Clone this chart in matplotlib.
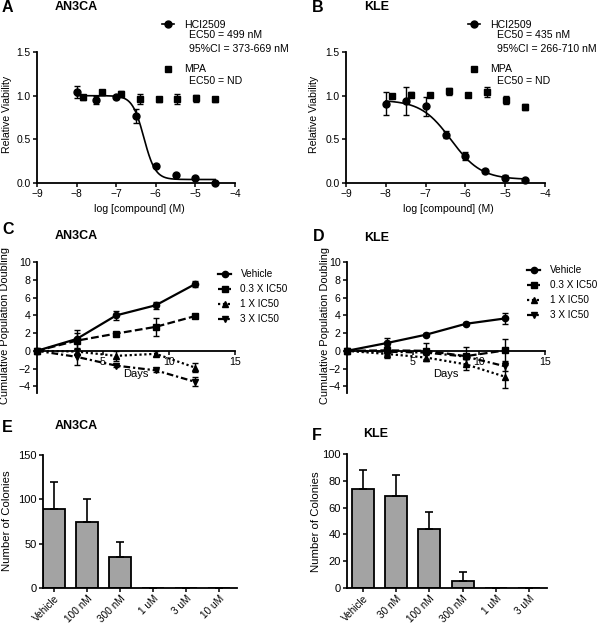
import numpy as np
import matplotlib
matplotlib.use("Agg")
import matplotlib.pyplot as plt
from matplotlib.lines import Line2D

plt.rcParams['font.family'] = ['Liberation Sans', 'DejaVu Sans']

# ---------------- data ----------------
log_conc = [-8, -7.5, -7, -6.5, -6, -5.5, -5, -4.5]
mpa_log_conc = [-7.85, -7.37, -6.89, -6.41, -5.93, -5.46, -4.98, -4.5]

an3ca_hci = [1.04, 0.95, 0.98, 0.77, 0.20, 0.095, 0.057, 0.005]
an3ca_hci_err = [0.07, 0.05, 0.02, 0.08, 0.02, 0.01, 0.01, 0.01]
an3ca_mpa = [0.98, 1.04, 1.02, 0.96, 0.96, 0.96, 0.97, 0.96]
an3ca_mpa_err = [0.03, 0.03, 0.03, 0.06, 0.03, 0.06, 0.04, 0.03]
an3ca_fit = dict(top=1.0, bottom=0.04, ec50_nm=499, hill=3.0)

kle_hci = [0.91, 0.94, 0.88, 0.55, 0.31, 0.14, 0.06, 0.03]
kle_hci_err = [0.13, 0.16, 0.11, 0.04, 0.05, 0.02, 0.03, 0.01]
kle_mpa = [1.0, 1.01, 1.01, 1.05, 1.01, 1.04, 0.95, 0.87]
kle_mpa_err = [0.02, 0.03, 0.02, 0.04, 0.02, 0.06, 0.05, 0.03]
kle_fit = dict(top=0.95, bottom=0.04, ec50_nm=435, hill=1.15)

days = [0, 3, 6, 9, 12]
growth_labels = ['Vehicle', '0.3 X IC50', '1 X IC50', '3 X IC50']

an3ca_growth = [[0, 1.33, 3.99, 5.13, 7.53],
                [0, 1.14, 1.94, 2.70, 3.92],
                [0, -0.08, -0.57, -0.34, -1.90],
                [0, -0.68, -1.67, -2.20, -3.50]]
an3ca_growth_err = [[0, 1.0, 0.5, 0.4, 0.3],
                    [0, 0.9, 0.2, 1.0, 0.2],
                    [0, 0.3, 0.6, 0.3, 0.5],
                    [0, 0.9, 0.2, 0.15, 0.5]]

kle_growth = [[0, 0.87, 1.82, 3.04, 3.65],
              [0, 0.05, 0.0, -0.60, 0.05],
              [0, -0.35, -0.76, -1.52, -2.93],
              [0, -0.10, -0.20, -0.65, -1.75]]
kle_growth_err = [[0, 0.6, 0.15, 0.15, 0.6],
                  [0, 0.5, 0.9, 1.0, 1.25],
                  [0, 0.5, 0.4, 0.6, 1.3],
                  [0, 0.3, 0.3, 0.3, 0.5]]

an3ca_col_cats = ['Vehicle', '100 nM', '300 nM', '1 uM', '3 uM', '10 uM']
an3ca_colonies = [89, 75, 35, 0, 0, 0]
an3ca_colonies_err = [30, 25, 17, 0, 0, 0]

kle_col_cats = ['Vehicle', '30 nM', '100 nM', '300 nM', '1 uM', '3 uM']
kle_colonies = [74, 69, 44, 5, 0, 0]
kle_colonies_err = [14, 15, 12.5, 7, 0, 0]

# ---------------- layout helpers ----------------
W, H = 600, 623
fig = plt.figure(figsize=(W / 100, H / 100), dpi=100)


def add_ax(left, top, right, bottom):
    return fig.add_axes([left / W, 1 - bottom / H, (right - left) / W, (bottom - top) / H])


def ftext(x, y, s, **kw):
    kw.setdefault('ha', 'center')
    kw.setdefault('va', 'center')
    return fig.text(x / W, 1 - y / H, s, **kw)


def style(ax, fs):
    for s in ['top', 'right']:
        ax.spines[s].set_visible(False)
    for s in ['left', 'bottom']:
        ax.spines[s].set_linewidth(1.3)
    ax.tick_params(direction='out', length=3, width=1.1, labelsize=fs, pad=1.5)


def logistic(x, top, bottom, ec50_nm, hill):
    c = np.log10(ec50_nm * 1e-9)
    return bottom + (top - bottom) / (1 + 10 ** ((x - c) * hill))


# ---------------- panels A/B ----------------
def dose_panel(ax, hci, hci_err, mpa, mpa_err, fit):
    style(ax, 7.4)
    ax.set_xlim(-9, -4)
    ax.set_ylim(0, 1.5)
    ax.set_xticks([-9, -8, -7, -6, -5, -4])
    ax.set_yticks([0, 0.5, 1.0, 1.5])
    ax.set_yticklabels(['0.0', '0.5', '1.0', '1.5'])
    xs = np.linspace(min(log_conc), max(log_conc), 300)
    ax.plot(xs, logistic(xs, **fit), color='black', lw=1.2, clip_on=False)
    ax.errorbar(log_conc, hci, yerr=hci_err, fmt='o', color='black', ms=5,
                capsize=2.3, elinewidth=1, capthick=1, clip_on=False)
    ax.errorbar(mpa_log_conc, mpa, yerr=mpa_err, fmt='s', color='black', ms=4.5,
                capsize=2.3, elinewidth=1, capthick=1, clip_on=False)


axA = add_ax(37, 52, 235, 183)
dose_panel(axA, an3ca_hci, an3ca_hci_err, an3ca_mpa, an3ca_mpa_err, an3ca_fit)
axB = add_ax(346, 52, 545, 183)
dose_panel(axB, kle_hci, kle_hci_err, kle_mpa, kle_mpa_err, kle_fit)


def dose_legend(x0, y0):
    h1 = Line2D([], [], color='black', marker='o', ms=5, lw=1.2)
    h2 = Line2D([], [], color='black', marker='s', ms=4.5, ls='none')
    fig.legend([h1, h2], ['HCI2509', 'MPA'], loc='upper left',
               bbox_to_anchor=(x0 / W, 1 - y0 / H), frameon=False, fontsize=7.6,
               handlelength=1.15, handletextpad=0.9, labelspacing=3.25,
               borderpad=0, borderaxespad=0)


dose_legend(162, 20)
ftext(189, 35.5, 'EC50 = 499 nM', ha='left', fontsize=7.6)
ftext(189, 49.5, '95%CI = 373-669 nM', ha='left', fontsize=7.6)
ftext(189, 81, 'EC50 = ND', ha='left', fontsize=7.6)

dose_legend(468, 20)
ftext(497, 35.5, 'EC50 = 435 nM', ha='left', fontsize=7.6)
ftext(497, 49.5, '95%CI = 266-710 nM', ha='left', fontsize=7.6)
ftext(497, 81, 'EC50 = ND', ha='left', fontsize=7.6)

ftext(7, 114, 'Relative Viability', rotation=90, fontsize=7.6)
ftext(314, 114, 'Relative Viability', rotation=90, fontsize=7.6)
ftext(139, 209, 'log [compound] (M)', fontsize=7.6)
ftext(448, 209, 'log [compound] (M)', fontsize=7.6)

# ---------------- panels C/D ----------------
line_styles = ['-', (0, (3.5, 1.5)), (0, (1, 1.2)), (0, (3, 1.3, 1, 1.3))]
markers = ['o', 's', '^', 'v']


def growth_panel(ax, data, errs, legend_xy):
    style(ax, 7.7)
    ax.set_xlim(0, 15)
    ax.set_ylim(-4.75, 10)
    ax.spines['bottom'].set_position(('data', 0))
    ax.set_xticks([0, 5, 10, 15])
    ax.set_xticklabels(['', '5', '10', '15'])
    ax.set_yticks([-4, -2, 0, 2, 4, 6, 8, 10])
    ax.set_xlabel('Days', fontsize=8, labelpad=1.5)
    handles = []
    for vals, err, ls, mk in zip(data, errs, line_styles, markers):
        ax.errorbar(days, vals, yerr=err, color='black', ls=ls, marker=mk,
                    ms=4.5, lw=1.6, capsize=2.3, elinewidth=1, capthick=1,
                    clip_on=False)
        handles.append(Line2D([], [], color='black', ls=ls, marker=mk, ms=4.5, lw=1.6))
    fig.legend(handles, growth_labels, loc='upper left',
               bbox_to_anchor=(legend_xy[0] / W, 1 - legend_xy[1] / H),
               frameon=False, fontsize=7.2, handlelength=1.3, handletextpad=0.95,
               labelspacing=0.5, borderpad=0, borderaxespad=0)


axC = add_ax(37, 262, 235, 393)
growth_panel(axC, an3ca_growth, an3ca_growth_err, (218, 269))
axD = add_ax(347, 262, 545, 393)
growth_panel(axD, kle_growth, kle_growth_err, (527, 265))

ftext(5, 325, 'Cumulative Population Doubling', rotation=90, fontsize=7.9)
ftext(325, 325, 'Cumulative Population Doubling', rotation=90, fontsize=7.9)

# ---------------- panels E/F ----------------
def colony_panel(ax, cats, vals, errs, ymax, yticks, xlim):
    style(ax, 8)
    ax.tick_params(axis='x', pad=1)
    x = np.arange(len(cats))
    ax.bar(x, vals, width=0.66, color='#a3a3a3', edgecolor='black', lw=1.3)
    ax.errorbar(x, vals, yerr=[np.zeros(len(vals)), errs], fmt='none', ecolor='black',
                elinewidth=1.2, capsize=2.8, capthick=1.2)
    ax.set_xlim(*xlim)
    ax.set_ylim(0, ymax)
    ax.set_yticks(yticks)
    ax.set_xticks(x)
    ax.set_xticklabels(cats, rotation=45, ha='right', va='top', rotation_mode='anchor',
                       fontsize=7.2)


axE = add_ax(43, 455, 237, 588)
colony_panel(axE, an3ca_col_cats, an3ca_colonies, an3ca_colonies_err, 150,
             [0, 50, 100, 150], (-0.33, 5.55))
axF = add_ax(347, 454, 547, 588)
colony_panel(axF, kle_col_cats, kle_colonies, kle_colonies_err, 100,
             [0, 20, 40, 60, 80, 100], (-0.48, 5.54))

ftext(7, 521, 'Number of Colonies', rotation=90, fontsize=8.2)
ftext(316, 522, 'Number of Colonies', rotation=90, fontsize=8.2)

# ---------------- panel letters and titles ----------------
for (lx, ly, letter), (tx, ty, title) in [
        ((7, 8, 'A'), (76, 7, 'AN3CA')),
        ((318, 8, 'B'), (377, 7, 'KLE')),
        ((8, 229, 'C'), (76, 236, 'AN3CA')),
        ((319, 236, 'D'), (377, 238, 'KLE')),
        ((7, 427, 'E'), (76, 426, 'AN3CA')),
        ((317, 435, 'F'), (376, 434, 'KLE'))]:
    ftext(lx, ly, letter, fontsize=11.5, fontweight='bold')
    ftext(tx, ty, title, fontsize=9, fontweight='bold')

fig.savefig('out.png', dpi=100)
